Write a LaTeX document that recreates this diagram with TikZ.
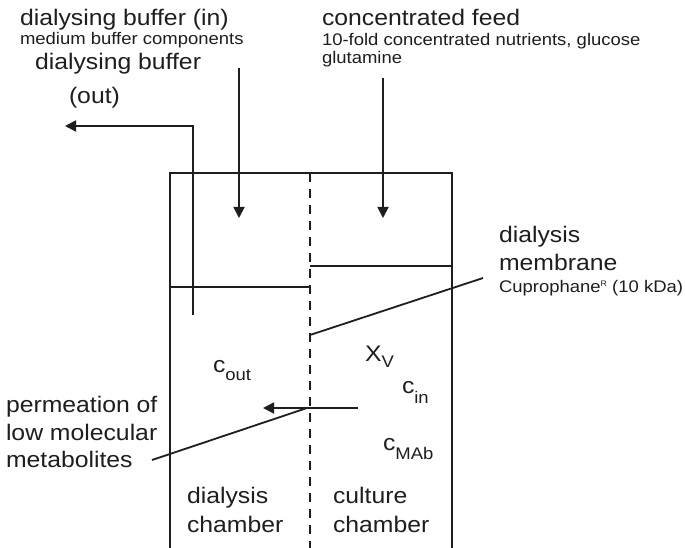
\documentclass[tikz,border=0pt]{standalone}
\usepackage{fontspec}
\setmainfont{Liberation Sans}[FakeStretch=1.1]
\usetikzlibrary{arrows.meta}
\newcommand{\bigf}{\fontsize{22.5}{28}\selectfont}
\newcommand{\smf}{\fontsize{16.8}{18}\selectfont}
\definecolor{ink}{HTML}{1E1E1E}
\begin{document}
\begin{tikzpicture}[x=1pt,y=-1pt, line width=1.8pt, draw=ink,
  lbl/.style={anchor=base west, inner sep=0pt, outer sep=0pt, font=\bigf, text=ink},
  slbl/.style={lbl, font=\smf},
  arr/.style={-{Triangle[length=11pt,width=11pt]}},
  memb/.style={dash pattern=on 9pt off 7pt, line width=2.2pt}]
\useasboundingbox[fill=white] (0,0) rectangle (685,548);
% box
\coordinate (tl) at (170,173);
\coordinate (tr) at (452,173);
\coordinate (bl) at (170,548);
\coordinate (br) at (452,548);
\draw (bl) -- (tl) -- (tr) -- (br);
% membrane
\coordinate (mt) at (310,173);
\coordinate (mb) at (310,548);
\draw[memb] (mt) -- (mb);
% liquid levels
\coordinate (dl) at (170,287);
\coordinate (dr) at (310,287);
\coordinate (cl) at (310,266);
\coordinate (cr) at (452,266);
\draw (dl) -- (dr);
\draw (cl) -- (cr);
% buffer out tube
\coordinate (ob) at (193,315);
\coordinate (ot) at (193,126);
\coordinate (oe) at (65,126);
\draw[arr] (ob) -- (ot) -- (oe);
% buffer in
\coordinate (is) at (239,68);
\coordinate (ie) at (239,218);
\draw[arr] (is) -- (ie);
% feed
\coordinate (fs) at (383,78);
\coordinate (fe) at (383,218);
\draw[arr] (fs) -- (fe);
% membrane pointer
\coordinate (mp1) at (310,335);
\coordinate (mp2) at (483,278);
\draw (mp1) -- (mp2);
% permeation arrow
\coordinate (ps) at (358,408);
\coordinate (pe) at (263,408);
\draw[arr] (ps) -- (pe);
\coordinate (pp1) at (152,460);
\coordinate (pp2) at (307,408);
\draw (pp1) -- (pp2);
% texts
\node[lbl] (t1) at (20,26) {dialysing buffer (in)};
\node[slbl] (t2) at (20,45) {medium buffer components};
\node[lbl] (t3) at (35,70) {dialysing buffer};
\node[lbl] (t4) at (69,104) {(out)};
\node[lbl] (t5) at (322,26) {concentrated feed};
\node[slbl] (t6) at (322,46) {10-fold concentrated nutrients, glucose};
\node[slbl] (t7) at (322,64) {glutamine};
\node[lbl] (t8) at (499,242) {dialysis};
\node[lbl] (t9) at (499,270) {membrane};
\node[slbl] (t10) at (499,292) {Cuprophane\raisebox{6pt}{\fontsize{8}{8}\selectfont R} (10 kDa)};
\node[lbl] (t11) at (213,372) {c\raisebox{-8pt}{\smf out}};
\node[lbl] (t12) at (365,361) {X\raisebox{-6pt}{\smf V}};
\node[lbl] (t13) at (402,393) {c\raisebox{-10pt}{\smf in}};
\node[lbl] (t14) at (383,450) {c\raisebox{-9pt}{\smf MAb}};
\node[lbl] (t15) at (6,412) {permeation of};
\node[lbl] (t16) at (6,440) {low molecular};
\node[lbl] (t17) at (6,467) {metabolites};
\node[lbl] (t18) at (187,503) {dialysis};
\node[lbl] (t19) at (187,532) {chamber};
\node[lbl] (t20) at (333,503) {culture};
\node[lbl] (t21) at (333,532) {chamber};
\end{tikzpicture}
\end{document}
